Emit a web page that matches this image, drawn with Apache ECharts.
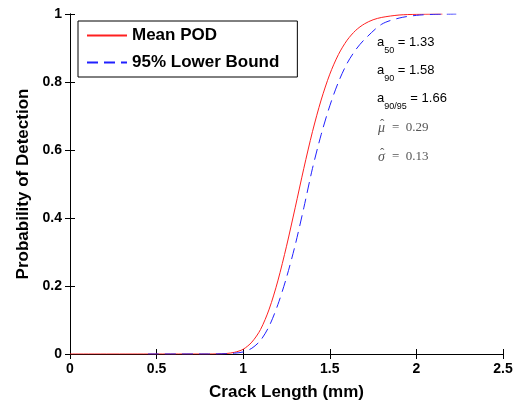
<!DOCTYPE html>
<html>
<head>
<meta charset="utf-8">
<script src="https://cdn.jsdelivr.net/npm/echarts@6/dist/echarts.min.js"></script>
<style>
  html, body { margin: 0; padding: 0; background: #fff; }
  #chart { width: 530px; height: 406px; }
</style>
</head>
<body>
<div id="chart"></div>
<script>
// values
const meanX = [0, 0.45, 0.8, 0.85, 0.9, 0.95, 1.0, 1.05, 1.1, 1.15, 1.2, 1.25, 1.3, 1.35, 1.4, 1.45, 1.5, 1.55, 1.6, 1.65, 1.7, 1.75, 1.8, 1.9, 2.0, 2.15]
const meanY = [0, 0, 0, 0.0003, 0.0013, 0.005, 0.014, 0.035, 0.072, 0.132, 0.215, 0.317, 0.43, 0.546, 0.654, 0.747, 0.823, 0.881, 0.923, 0.952, 0.971, 0.983, 0.99, 0.997, 0.999, 1]
const lowerX = [0.45, 0.8, 0.9, 0.95, 1.0, 1.05, 1.1, 1.15, 1.2, 1.25, 1.3, 1.35, 1.4, 1.45, 1.5, 1.55, 1.6, 1.65, 1.7, 1.8, 1.9, 2.0, 2.1, 2.23]
const lowerY = [0, 0, 0.0008, 0.0025, 0.006, 0.017, 0.04, 0.082, 0.145, 0.225, 0.32, 0.43, 0.546, 0.645, 0.73, 0.8, 0.855, 0.895, 0.925, 0.97, 0.988, 0.996, 0.999, 1]
const seriesNames = ['Mean POD', '95% Lower Bound']
const statLines = [
    ['50', '1.33'],
    ['90', '1.58'],
    ['90/95', '1.66'],
]
const hatStats = [
    ['μ', '0.29'],
    ['σ', '0.13'],
]

const font = 'Liberation Sans, Arial, sans-serif'
const serif = 'Liberation Serif, DejaVu Serif, serif'

function pairs(xs, ys) {
    return xs.map((x, i) => [x, ys[i]])
}

let chart = echarts.init(document.getElementById('chart'), null, { renderer: 'canvas' })

let mirrorAxis = {
    show: true,
    axisLine: { show: true, lineStyle: { color: '#000', width: 1 } },
    axisTick: { show: true, inside: true, length: 5, lineStyle: { color: '#000' } },
    axisLabel: { show: false },
    splitLine: { show: false },
}

let statGraphics = statLines.map((s, i) => {
    return {
        type: 'text',
        left: 377,
        top: 36 + i * 28,
        style: {
            text: `{a|a}{s|${s[0]}}{a| = ${s[1]}}`,
            rich: {
                a: { fontFamily: font, fontSize: 13, color: '#222', lineHeight: 16, verticalAlign: 'top' },
                s: { fontFamily: font, fontSize: 9, color: '#222', lineHeight: 19, verticalAlign: 'bottom' },
            },
        },
    }
})

// hatted symbols: symbol, hat and value as separate texts (combining accents render badly)
hatStats.forEach((h, i) => {
    let top = 121 + i * 29
    statGraphics.push({
        type: 'text', left: 378, top: top,
        style: { text: h[0], fontFamily: serif, fontStyle: 'italic', fontSize: 14, fill: '#555' },
    })
    statGraphics.push({
        type: 'text', left: 380, top: top - 3,
        style: { text: 'ˆ', fontFamily: serif, fontSize: 13, fill: '#555' },
    })
    statGraphics.push({
        type: 'text', left: 392, top: top,
        style: { text: '=  ' + h[1], fontFamily: serif, fontSize: 13, fill: '#555' },
    })
})

let options = {
    animation: false,
    backgroundColor: '#fff',
    grid: { left: 70, right: 27, top: 14, bottom: 50 },
    legend: {
        orient: 'vertical',
        left: 78,
        top: 21,
        data: seriesNames,
        itemWidth: 40,
        itemHeight: 14,
        itemGap: 10,
        padding: [6, 18, 6, 8],
        borderColor: '#000',
        borderWidth: 1,
        backgroundColor: '#fff',
        itemStyle: { opacity: 0 },
        textStyle: { fontFamily: font, fontWeight: 'bold', fontSize: 17, color: '#000' },
    },
    xAxis: [
        {
            type: 'value',
            min: 0,
            max: 2.5,
            interval: 0.5,
            name: 'Crack Length (mm)',
            nameLocation: 'middle',
            nameGap: 30,
            nameTextStyle: { fontFamily: font, fontWeight: 'bold', fontSize: 17, color: '#000' },
            axisLine: { show: true, lineStyle: { color: '#000', width: 1 } },
            axisTick: { show: true, inside: true, length: 5, lineStyle: { color: '#000' } },
            axisLabel: { fontFamily: font, fontWeight: 'bold', fontSize: 14, color: '#000', margin: 8 },
            splitLine: { show: false },
        },
        Object.assign({ type: 'value', min: 0, max: 2.5, interval: 0.5, position: 'top' }, mirrorAxis),
    ],
    yAxis: [
        {
            type: 'value',
            min: 0,
            max: 1,
            interval: 0.2,
            name: 'Probability of Detection',
            nameLocation: 'middle',
            nameGap: 38,
            nameTextStyle: { fontFamily: font, fontWeight: 'bold', fontSize: 17, color: '#000' },
            axisLine: { show: true, lineStyle: { color: '#000', width: 1 } },
            axisTick: { show: true, inside: true, length: 5, lineStyle: { color: '#000' } },
            axisLabel: { fontFamily: font, fontWeight: 'bold', fontSize: 14, color: '#000', margin: 8 },
            splitLine: { show: false },
        },
        Object.assign({ type: 'value', min: 0, max: 1, interval: 0.2, position: 'right' }, mirrorAxis),
    ],
    series: [
        {
            name: seriesNames[0],
            type: 'line',
            symbol: 'none',
            smooth: 0.3,
            data: pairs(meanX, meanY),
            lineStyle: { color: '#ff2020', width: 1 },
            itemStyle: { color: '#ff2020' },
            z: 2,
        },
        {
            name: seriesNames[1],
            type: 'line',
            symbol: 'none',
            smooth: 0.3,
            data: pairs(lowerX, lowerY),
            lineStyle: { color: '#2020ff', width: 1, type: [11, 6] },
            itemStyle: { color: '#2020ff' },
            z: 3,
        },
    ],
    graphic: statGraphics,
}

chart.setOption(options)
</script>
</body>
</html>
